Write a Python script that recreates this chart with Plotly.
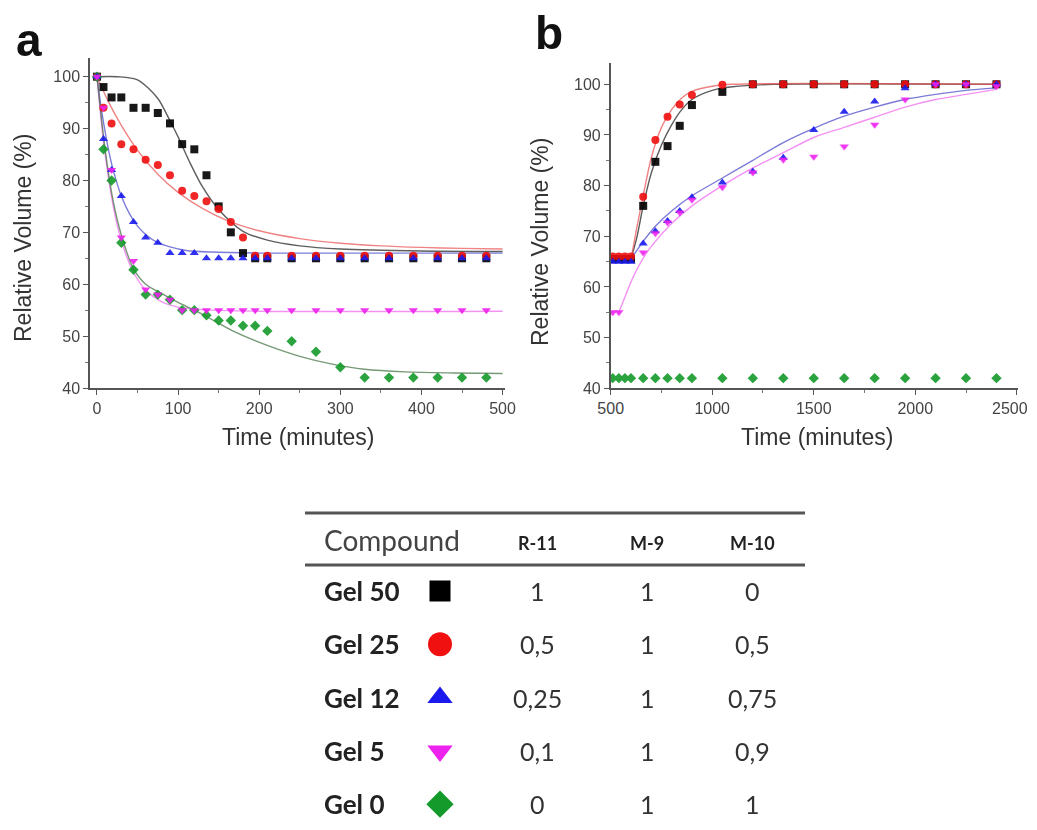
import plotly.graph_objects as go

# page body keeps an 8 px margin, so the figure is 16 px smaller than the window
PAGE_PAD = 8
W, H = 1037 - 2 * PAGE_PAD, 830 - 2 * PAGE_PAD

# ---------------- Panel a data (shrinking) ----------------
t_a = [0, 8, 18, 30, 45, 60, 75, 90, 105, 120, 135, 150, 165, 180, 195, 210,
       240, 270, 300, 330, 360, 390, 420, 450, 480]
gel50_a = [100, 98, 96, 96, 94, 94, 93, 91, 87, 86, 81, 75, 70, 66, 65, 65,
           65, 65, 65, 65, 65, 65, 65, 65, 65]
gel25_a = [100, 94, 91, 87, 86, 84, 83, 81, 78, 77, 76, 74.5, 72, 69, 65.5, 65.5,
           65.5, 65.5, 65.5, 65.5, 65.5, 65.5, 65.5, 65.5, 65.5]
gel12_a = [100, 88, 82, 77, 72, 69, 68, 66, 66, 66, 65, 65, 65, 65, 65, 65,
           65, 65, 65, 65, 65, 65, 65, 65, 65]
gel5_a = [100, 94, 82, 69, 64.5, 59, 58, 57, 55, 55, 55, 55, 55, 55, 55, 55,
          55, 55, 55, 55, 55, 55, 55, 55, 55]
gel0_a = [100, 86, 80, 68, 62.8, 58, 58, 57, 55, 55, 54, 53, 53, 52, 52, 51,
          49, 47, 44, 42, 42, 42, 42, 42, 42]

# fitted curves of panel a
fit50_a_t = [0, 25, 50, 75, 90, 100, 115, 130, 150, 180, 210, 250, 300, 400, 500]
fit50_a_v = [100, 100, 99.4, 95.8, 91.5, 88.4, 83.3, 78.8, 74.4, 70.2, 68.5, 67.4, 66.8, 66.4, 66.3]
fit25_a_t = [0, 15, 30, 50, 75, 100, 130, 160, 200, 250, 300, 350, 400, 450, 500]
fit25_a_v = [100, 94.9, 90.6, 85.8, 81.2, 77.7, 74.6, 72.3, 70.3, 68.8, 67.9, 67.4, 67.1, 66.9, 66.8]
fit12_a_t = [0, 5, 10, 15, 20, 30, 40, 50, 60, 75, 90, 110, 140, 200, 500]
fit12_a_v = [100, 94.2, 89.4, 85.3, 82, 77, 73.6, 71.2, 69.6, 68, 67.2, 66.5, 66.2, 66, 66]
fit5_a_t = [0, 5, 10, 20, 30, 45, 60, 80, 100, 130, 200, 500]
fit5_a_v = [100, 91.8, 85.1, 75.1, 68.4, 62.3, 58.9, 56.6, 55.6, 55.1, 54.8, 54.8]
fit0_a_t = [0, 10, 20, 30, 45, 60, 80, 100, 130, 170, 210, 250, 290, 330, 380, 440, 500]
fit0_a_v = [100, 86, 76, 69.5, 63, 60, 58.2, 56.5, 54.2, 50.8, 48.2, 46.1, 44.6, 43.6, 43.1, 42.9, 42.8]

# ---------------- Panel b data (re-swelling) ----------------
t_b = [510, 540, 570, 600, 660, 720, 780, 840, 900, 1050, 1200, 1350, 1500,
       1650, 1800, 1950, 2100, 2250, 2400]
gel50_b = [65.5, 65.5, 65.5, 65.5, 76, 84.7, 87.8, 91.8, 95.9, 98.5, 100, 100, 100,
           100, 100, 100, 100, 100, 100]
gel25_b = [66, 66, 66, 66, 77.8, 89, 93.6, 96, 97.9, 99.9, 100, 100, 100,
           100, 100, 100, 100, 100, 100]
gel12_b = [65, 65, 65, 65, 68.6, 71, 73, 75, 77.7, 80.6, 82.8, 85.5, 91,
           94.6, 96.6, 99.2, 100, 100, 100]
t_b5 = [510, 540, 660, 720, 780, 840, 900, 1050, 1200, 1350, 1500, 1650, 1800,
        1950, 2100, 2250, 2400]
gel5_b = [55, 55, 66.8, 70.6, 72.7, 74.7, 77.2, 79.7, 82.6, 85.1, 85.7, 87.7, 92,
          97, 100, 100, 99.6]
gel0_b = [42, 42, 42, 42, 42, 42, 42, 42, 42, 42, 42, 42, 42,
          42, 42, 42, 42, 42, 42]

fit50_b_t = [600, 630, 660, 700, 750, 800, 850, 900, 1000, 1100, 1300, 2400]
fit50_b_v = [65.5, 70, 76, 82.5, 88, 92, 95, 97, 98.8, 99.5, 100, 100]
fit25_b_t = [600, 630, 660, 700, 750, 800, 850, 900, 1000, 1100, 2400]
fit25_b_v = [65.5, 72, 78, 85.5, 91.5, 95, 97.3, 98.6, 99.6, 100, 100]
fit12_b_t = [600, 660, 720, 800, 900, 1050, 1200, 1350, 1500, 1650, 1800, 1950, 2100, 2250, 2400]
fit12_b_v = [65.5, 69, 72, 75, 78, 81.5, 85, 88.5, 91.3, 93.7, 95.5, 97, 98, 98.8, 99.3]
fit5_b_t = [540, 570, 600, 650, 700, 800, 900, 1050, 1200, 1350, 1500, 1650, 1800, 1950, 2100, 2250, 2400]
fit5_b_v = [55, 58, 61, 65, 68, 72.5, 76, 80, 83.5, 86.5, 89.5, 91.5, 93.5, 95.5, 97, 98, 99]

# tick labels
ticks_a_x = [0, 100, 200, 300, 400, 500]
ticks_b_x = [500, 1000, 1500, 2000, 2500]
ticks_y = [40, 50, 60, 70, 80, 90, 100]

# ---------------- Table data ----------------
headers = ["Compound", "R-11", "M-9", "M-10"]
compounds = ["Gel 50", "Gel 25", "Gel 12", "Gel 5", "Gel 0"]
r11 = ["1", "0,5", "0,25", "0,1", "0"]
m9 = ["1", "1", "1", "1", "1"]
m10 = ["0", "0,5", "0,75", "0,9", "1"]

# ---------------- styles ----------------
colors = ["#000000", "#f01010", "#1a1aee", "#ee22ee", "#149a2a"]
fit_colors = ["rgba(40,40,40,0.75)", "rgba(235,90,90,0.75)", "rgba(70,70,200,0.7)",
              "rgba(240,110,240,0.75)", "rgba(60,110,60,0.7)"]
symbols = ["square", "circle", "triangle-up", "triangle-down", "diamond"]
table_sizes = [21, 24, 22, 22, 21]


def fx(px):
    """window pixel x -> paper fraction"""
    return (px - PAGE_PAD) / W


def fy(py):
    """window pixel y -> paper fraction"""
    return 1 - (py - PAGE_PAD) / H


fig = go.Figure()

series_a = [gel50_a, gel25_a, gel12_a, gel5_a, gel0_a]
fits_a = [(fit50_a_t, fit50_a_v), (fit25_a_t, fit25_a_v), (fit12_a_t, fit12_a_v),
          (fit5_a_t, fit5_a_v), (fit0_a_t, fit0_a_v)]
series_b = [(t_b, gel50_b), (t_b, gel25_b), (t_b, gel12_b), (t_b5, gel5_b), (t_b, gel0_b)]
fits_b = [(fit50_b_t, fit50_b_v), (fit25_b_t, fit25_b_v), (fit12_b_t, fit12_b_v),
          (fit5_b_t, fit5_b_v)]

for i, (ft, fv) in enumerate(fits_a):
    fig.add_trace(go.Scatter(x=ft, y=fv, mode="lines", xaxis="x", yaxis="y",
                             line=dict(color=fit_colors[i], width=1.4, shape="spline", smoothing=0.8),
                             showlegend=False, hoverinfo="skip"))
for i, (ft, fv) in enumerate(fits_b):
    fig.add_trace(go.Scatter(x=ft, y=fv, mode="lines", xaxis="x2", yaxis="y2",
                             line=dict(color=fit_colors[i], width=1.4, shape="spline", smoothing=0.8),
                             showlegend=False, hoverinfo="skip"))

draw_order = [0, 1, 4, 2, 3]
for i in draw_order:
    fig.add_trace(go.Scatter(x=t_a, y=series_a[i], mode="markers", xaxis="x", yaxis="y",
                             marker=dict(symbol=symbols[i], color=colors[i], size=8,
                                         line=dict(width=0)),
                             opacity=0.9, name=compounds[i], showlegend=False))
for i in draw_order:
    xs, ys = series_b[i]
    fig.add_trace(go.Scatter(x=xs, y=ys, mode="markers", xaxis="x2", yaxis="y2",
                             marker=dict(symbol=symbols[i], color=colors[i], size=8,
                                         line=dict(width=0)),
                             opacity=0.9, name=compounds[i], showlegend=False))

# table markers: small subplot covering only the marker column of the table
tbl_top, tbl_bot = 568, 822
row_y0, row_step = 591, 53.3
row_ys = [row_y0 + k * row_step for k in range(len(compounds))]
fig.add_trace(go.Scatter(x=[0] * len(compounds), y=row_ys, mode="markers",
                         xaxis="x3", yaxis="y3",
                         marker=dict(symbol=symbols, color=colors, size=table_sizes,
                                     line=dict(width=0), opacity=1),
                         showlegend=False, hoverinfo="skip", cliponaxis=False))

tick_font = dict(family="Liberation Sans, Arial, sans-serif", size=16, color="#444")
axis_common = dict(showline=True, linecolor="#555", linewidth=1.5, ticks="outside",
                   ticklen=5, tickcolor="#555", tickwidth=1.2, showgrid=False,
                   zeroline=False, tickfont=tick_font, automargin=False)

# the last label of panel b sits at the right page edge: keep it whole by
# drawing it right-aligned next to its tick
ticktext_b = [str(v) for v in ticks_b_x[:-1]] + [""]

fig.update_layout(
    template="none",
    width=W, height=H, margin=dict(l=0, r=0, t=0, b=0, autoexpand=False),
    paper_bgcolor="white", plot_bgcolor="rgba(0,0,0,0)",
    xaxis=dict(domain=[fx(90), fx(505)], range=[-8.6, 503], tickvals=ticks_a_x,
               minor=dict(ticks="outside", ticklen=3, tickcolor="#777", dtick=50, tick0=0),
               anchor="y", ticklabeloverflow="allow", **axis_common),
    yaxis=dict(domain=[fy(388), fy(58)], range=[40, 103.6], tickvals=ticks_y,
               minor=dict(ticks="outside", ticklen=3, tickcolor="#777", dtick=5, tick0=40),
               anchor="x", **axis_common),
    xaxis2=dict(domain=[fx(610.7), fx(1018)], range=[500, 2506],
                tickvals=ticks_b_x, ticktext=ticktext_b,
                minor=dict(ticks="outside", ticklen=3, tickcolor="#777", dtick=250, tick0=500),
                anchor="y2", ticklabeloverflow="allow", **axis_common),
    yaxis2=dict(domain=[fy(388.3), fy(63)], range=[40, 104.2], tickvals=ticks_y,
                minor=dict(ticks="outside", ticklen=3, tickcolor="#777", dtick=5, tick0=40),
                anchor="x2", **axis_common),
    xaxis3=dict(domain=[fx(420), fx(460)], range=[-1, 1], visible=False, anchor="y3",
                fixedrange=True, showgrid=False, zeroline=False),
    yaxis3=dict(domain=[fy(tbl_bot), fy(tbl_top)], range=[tbl_bot, tbl_top], visible=False,
                anchor="x3", fixedrange=True, showgrid=False, zeroline=False),
)

ann = []
ann.append(dict(text=str(ticks_b_x[-1]), x=ticks_b_x[-1], xref="x2", y=fy(408), yref="paper",
                xanchor="center", xshift=-7, yanchor="middle", showarrow=False, font=tick_font))

title_font = dict(family="Liberation Sans, Arial, sans-serif", size=23, color="#333")
label_font = dict(family="Liberation Sans, Arial, sans-serif", size=46, color="#111")
ann.append(dict(text="<b>a</b>", x=fx(29), y=fy(68), xref="paper", yref="paper",
                xanchor="center", yanchor="bottom", showarrow=False, font=label_font))
ann.append(dict(text="<b>b</b>", x=fx(549), y=fy(61), xref="paper", yref="paper",
                xanchor="center", yanchor="bottom", showarrow=False, font=label_font))
ann.append(dict(text="Relative Volume (%)", x=fx(23), y=fy(238), xref="paper", yref="paper",
                textangle=-90, xanchor="center", yanchor="middle", showarrow=False, font=title_font))
ann.append(dict(text="Time (minutes)", x=fx(298), y=fy(437), xref="paper", yref="paper",
                xanchor="center", yanchor="middle", showarrow=False, font=title_font))
ann.append(dict(text="Relative Volume (%)", x=fx(540), y=fy(242), xref="paper", yref="paper",
                textangle=-90, xanchor="center", yanchor="middle", showarrow=False, font=title_font))
ann.append(dict(text="Time (minutes)", x=fx(817), y=fy(437), xref="paper", yref="paper",
                xanchor="center", yanchor="middle", showarrow=False, font=title_font))

# table text
tfont = "Lato, Open Sans, sans-serif"
col_x = [537, 647, 752]
ann.append(dict(text=headers[0], x=fx(322), y=fy(540), xref="paper", yref="paper",
                xanchor="left", yanchor="middle", showarrow=False,
                font=dict(family=tfont, size=28, color="#444")))
for j in range(3):
    ann.append(dict(text="<b>" + headers[j + 1] + "</b>", x=fx(col_x[j]), y=fy(543),
                    xref="paper", yref="paper", xanchor="center", yanchor="middle",
                    showarrow=False, font=dict(family=tfont, size=18, color="#222")))
for k, name in enumerate(compounds):
    yy = fy(row_ys[k])
    ann.append(dict(text="<b>" + name + "</b>", x=fx(322), y=yy, xref="paper", yref="paper",
                    xanchor="left", yanchor="middle", showarrow=False,
                    font=dict(family=tfont, size=26, color="#222")))
    for j, col in enumerate([r11, m9, m10]):
        ann.append(dict(text=col[k], x=fx(col_x[j]), y=yy, xref="paper", yref="paper",
                        xanchor="center", yanchor="middle", showarrow=False,
                        font=dict(family=tfont, size=25, color="#333")))
fig.update_layout(annotations=ann)

shapes = [
    dict(type="line", xref="paper", yref="paper", x0=fx(305), x1=fx(805), y0=fy(513), y1=fy(513),
         line=dict(color="#555", width=3)),
    dict(type="line", xref="paper", yref="paper", x0=fx(305), x1=fx(805), y0=fy(565), y1=fy(565),
         line=dict(color="#555", width=3)),
]
fig.update_layout(shapes=shapes)

fig.write_html("out.html")
